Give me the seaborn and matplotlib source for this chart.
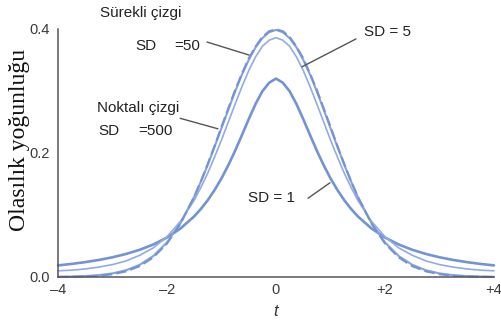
import numpy as np
import pandas as pd
import matplotlib
matplotlib.use("Agg")
import matplotlib.pyplot as plt
import seaborn as sns

# t values (shared by all curves); denser near the peak
t_vals = [-4.0, -3.75, -3.5, -3.25, -3.0, -2.75, -2.5, -2.25, -2.0, -1.75, -1.5,
          -1.375, -1.25, -1.125, -1.0, -0.875, -0.75, -0.625, -0.5, -0.375, -0.25, -0.125,
          0.0,
          0.125, 0.25, 0.375, 0.5, 0.625, 0.75, 0.875, 1.0, 1.125, 1.25, 1.375,
          1.5, 1.75, 2.0, 2.25, 2.5, 2.75, 3.0, 3.25, 3.5, 3.75, 4.0]

# density for SD = 1
dens_sd1 = [0.0187, 0.0211, 0.0240, 0.0275, 0.0318, 0.0372, 0.0439, 0.0525, 0.0637, 0.0784, 0.0979,
            0.1101, 0.1242, 0.1405, 0.1592, 0.1803, 0.2037, 0.2289, 0.2546, 0.2791, 0.2996, 0.3134,
            0.3200,
            0.3134, 0.2996, 0.2791, 0.2546, 0.2289, 0.2037, 0.1803, 0.1592, 0.1405, 0.1242, 0.1101,
            0.0979, 0.0784, 0.0637, 0.0525, 0.0439, 0.0372, 0.0318, 0.0275, 0.0240, 0.0211, 0.0187]

# density for SD = 5
dens_sd5 = [0.0100, 0.0110, 0.0130, 0.0160, 0.0200, 0.0260, 0.0350, 0.0470, 0.0650, 0.0900, 0.1240,
            0.1450, 0.1680, 0.1940, 0.2210, 0.2500, 0.2790, 0.3070, 0.3330, 0.3550, 0.3720, 0.3820,
            0.3860,
            0.3820, 0.3720, 0.3550, 0.3330, 0.3070, 0.2790, 0.2500, 0.2210, 0.1940, 0.1680, 0.1450,
            0.1240, 0.0900, 0.0650, 0.0470, 0.0350, 0.0260, 0.0200, 0.0160, 0.0130, 0.0110, 0.0100]

# density for SD = 50
dens_sd50 = [0.0003, 0.0007, 0.0015, 0.0030, 0.0058, 0.0109, 0.0197, 0.0339, 0.0558, 0.0872, 0.1295,
             0.1545, 0.1815, 0.2104, 0.2400, 0.2701, 0.2990, 0.3264, 0.3502, 0.3705, 0.3852, 0.3948,
             0.3985,
             0.3948, 0.3852, 0.3705, 0.3502, 0.3264, 0.2990, 0.2701, 0.2400, 0.2104, 0.1815, 0.1545,
             0.1295, 0.0872, 0.0558, 0.0339, 0.0197, 0.0109, 0.0058, 0.0030, 0.0015, 0.0007, 0.0003]

# density for SD = 500
dens_sd500 = [0.0001, 0.0004, 0.0009, 0.0020, 0.0044, 0.0091, 0.0175, 0.0317, 0.0540, 0.0863, 0.1297,
              0.1550, 0.1829, 0.2119, 0.2424, 0.2720, 0.3016, 0.3281, 0.3527, 0.3718, 0.3873, 0.3964,
              0.3995,
              0.3964, 0.3873, 0.3718, 0.3527, 0.3281, 0.3016, 0.2720, 0.2424, 0.2119, 0.1829, 0.1550,
              0.1297, 0.0863, 0.0540, 0.0317, 0.0175, 0.0091, 0.0044, 0.0020, 0.0009, 0.0004, 0.0001]

x_ticks = [-4, -2, 0, 2, 4]
x_tick_labels = ["\u20134", "\u20132", "0", "+2", "+4"]
y_ticks = [0.0, 0.2, 0.4]
y_tick_labels = ["0.0", "0.2", "0.4"]

sns.set_style("white")
plt.rcParams["font.family"] = ["Liberation Sans", "DejaVu Sans"]

W, H = 502, 324
fig = plt.figure(figsize=(W / 100, H / 100), dpi=100)
ax = fig.add_axes([58 / W, 1 - 277 / H, (494 - 58) / W, (277 - 29) / H])

def series(y):
    return pd.DataFrame({"t": t_vals, "p": y})

blue = "#7393d6"
sns.lineplot(data=series(dens_sd1), x="t", y="p", ax=ax, color=blue, lw=1.9)
sns.lineplot(data=series(dens_sd5), x="t", y="p", ax=ax, color="#93abe2", lw=1.2)
sns.lineplot(data=series(dens_sd50), x="t", y="p", ax=ax, color="#86a1dc", lw=1.5)
sns.lineplot(data=series(dens_sd500), x="t", y="p", ax=ax, color=blue, lw=1.5)
ax.lines[-1].set_dashes([5, 2])
for ln in ax.lines:
    ln.set_clip_on(False)
    ln.set_solid_joinstyle("round")
    ln.set_dash_joinstyle("round")

ax.set_xlim(-4, 4)
ax.set_ylim(0, 0.4)
ax.set_xticks(x_ticks)
ax.set_xticklabels(x_tick_labels)
ax.set_yticks(y_ticks)
ax.set_yticklabels(y_tick_labels)
ax.set_yticks(np.arange(0, 0.41, 0.05), minor=True)
ax.tick_params(axis="both", which="both", direction="in", length=7, width=1,
               color="#555555", labelsize=10.5, labelcolor="#3a3a3a")
ax.tick_params(axis="x", pad=4)
ax.tick_params(axis="y", pad=6)
for s in ["top", "right"]:
    ax.spines[s].set_visible(False)
for s in ["left", "bottom"]:
    ax.spines[s].set_color("#555555")
    ax.spines[s].set_linewidth(1.1)

ax.set_xlabel("t", fontsize=12, style="italic", color="#333333", labelpad=5)
ax.set_ylabel("")
fig.text(20 / W, 1 - 140 / H, "Olasılık yoğunluğu", rotation=90, ha="center", va="center",
         fontsize=17, family=["Liberation Serif", "DejaVu Serif"], color="#111111")

# curve labels
tc = "#222222"
fs = 11
fig.text(100 / W, 1 - 13 / H, "Sürekli çizgi", fontsize=fs, color=tc, va="center")
fig.text(135 / W, 1 - 46 / H, "SD", fontsize=fs, color=tc, va="center")
fig.text(174 / W, 1 - 46 / H, "=50", fontsize=fs, color=tc, va="center")
fig.text(97 / W, 1 - 108 / H, "Noktalı çizgi", fontsize=fs, color=tc, va="center")
fig.text(98 / W, 1 - 131 / H, "SD", fontsize=fs, color=tc, va="center")
fig.text(138 / W, 1 - 131 / H, "=500", fontsize=fs, color=tc, va="center")
fig.text(364 / W, 1 - 32 / H, "SD = 5", fontsize=fs, color=tc, va="center")
fig.text(248 / W, 1 - 198 / H, "SD = 1", fontsize=fs, color=tc, va="center")

# leader lines
lc = "#555555"
leaders = [((-1.266, 0.379), (-0.495, 0.358)),
           ((-1.76, 0.256), (-1.064, 0.239)),
           ((1.468, 0.384), (0.477, 0.339)),
           ((0.587, 0.127), (0.991, 0.152))]
for (x0, y0), (x1, y1) in leaders:
    ax.plot([x0, x1], [y0, y1], color=lc, lw=1.0, clip_on=False)

fig.savefig("out.png", dpi=100)
